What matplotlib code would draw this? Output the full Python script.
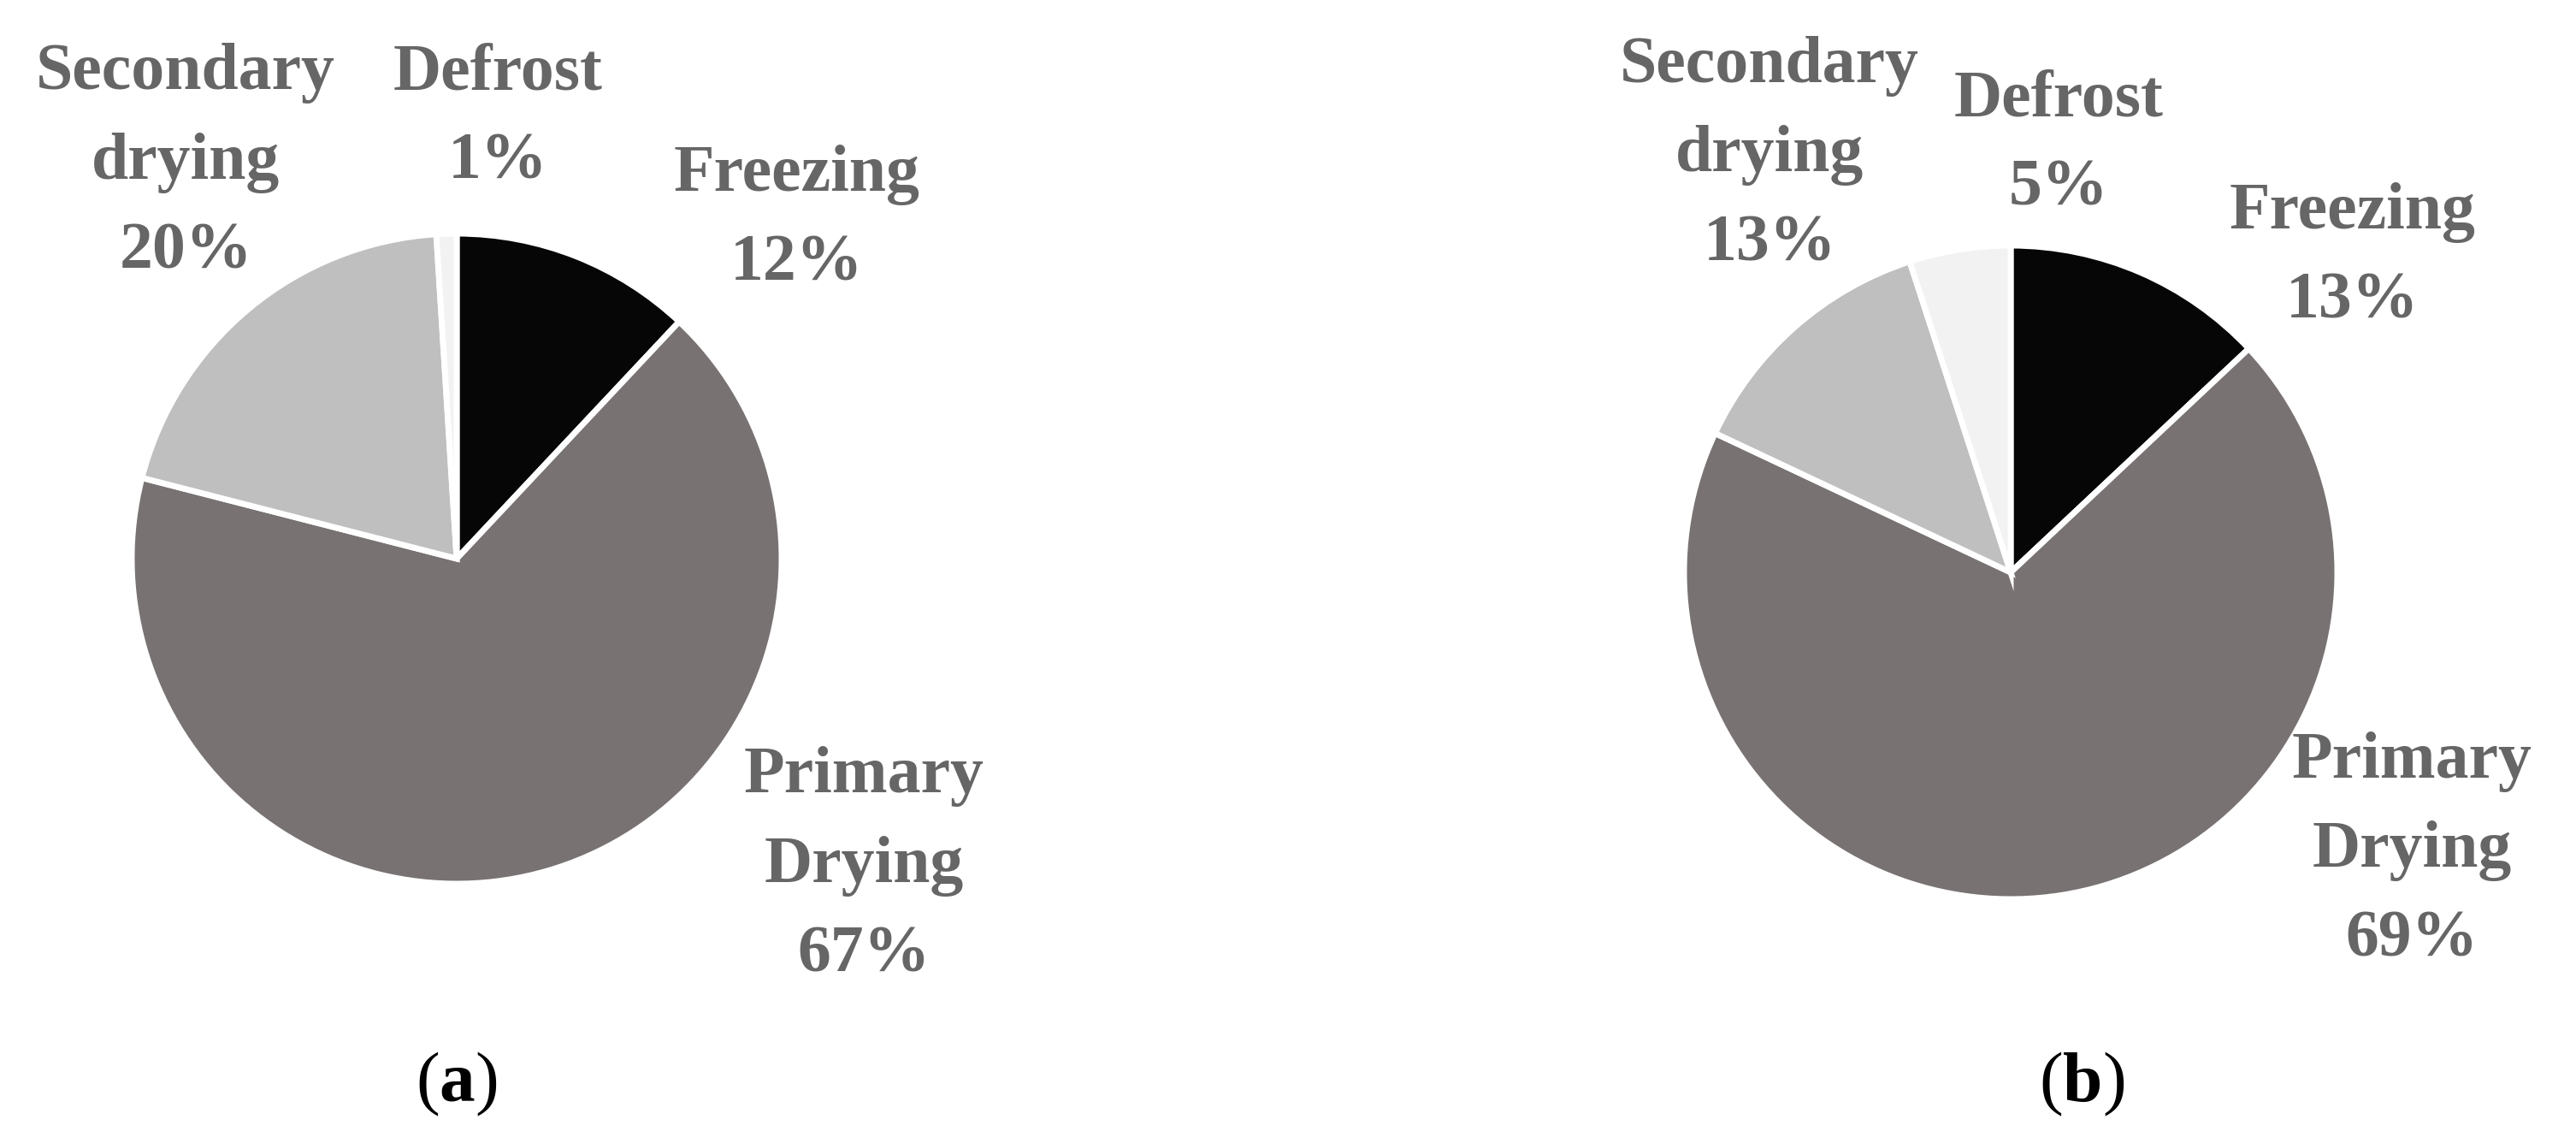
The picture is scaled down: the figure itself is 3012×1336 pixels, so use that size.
import matplotlib.pyplot as plt

plt.rcParams['font.family'] = ['Liberation Serif', 'DejaVu Serif']
plt.rcParams['mathtext.fontset'] = 'custom'
plt.rcParams['mathtext.bf'] = 'Liberation Serif:bold'
plt.rcParams['mathtext.rm'] = 'Liberation Serif'

# data
stages = ['Freezing', 'Primary\nDrying', 'Secondary\ndrying', 'Defrost']
share_a = [12, 67, 20, 1]
share_b = [13, 69, 13, 5]
colors = ['#060606', '#797272', '#bfbfbf', '#f2f2f2']

W, H = 3012, 1336
fig = plt.figure(figsize=(W / 100, H / 100), dpi=100)

def add_pie(cx, cy, r, vals, label_pos, caption, cap_x, cap_y):
    ax = fig.add_axes([(cx - r) / W, (H - cy - r) / H, 2 * r / W, 2 * r / H])
    ax.pie(vals, colors=colors, startangle=90, counterclock=False, radius=1,
           wedgeprops=dict(edgecolor='white', linewidth=5))
    ax.set_xlim(-1, 1)
    ax.set_ylim(-1, 1)
    ax.set_aspect('equal')
    ax.axis('off')
    for name, v, (x, y) in zip(stages, vals, label_pos):
        ax.text(x, y, f'{name}\n{v}%', ha='center', va='center', fontsize=56,
                fontweight='bold', color='#666666', linespacing=1.62,
                clip_on=False)
    ax.text(cap_x, cap_y, r'($\mathbf{' + caption + '}$)', ha='center', va='center',
            fontsize=60, color='black', clip_on=False)

add_pie(534, 653, 380, share_a,
        [(1.047, 1.042), (1.253, -0.945), (-0.834, 1.218), (0.126, 1.355)],
        'a', 0.0, -1.618)
add_pie(2351, 669, 382, share_b,
        [(1.047, 0.963), (1.228, -0.853), (-0.738, 1.275), (0.147, 1.309)],
        'b', 0.217, -1.567)

fig.savefig('out.png', dpi=100, facecolor='white')
